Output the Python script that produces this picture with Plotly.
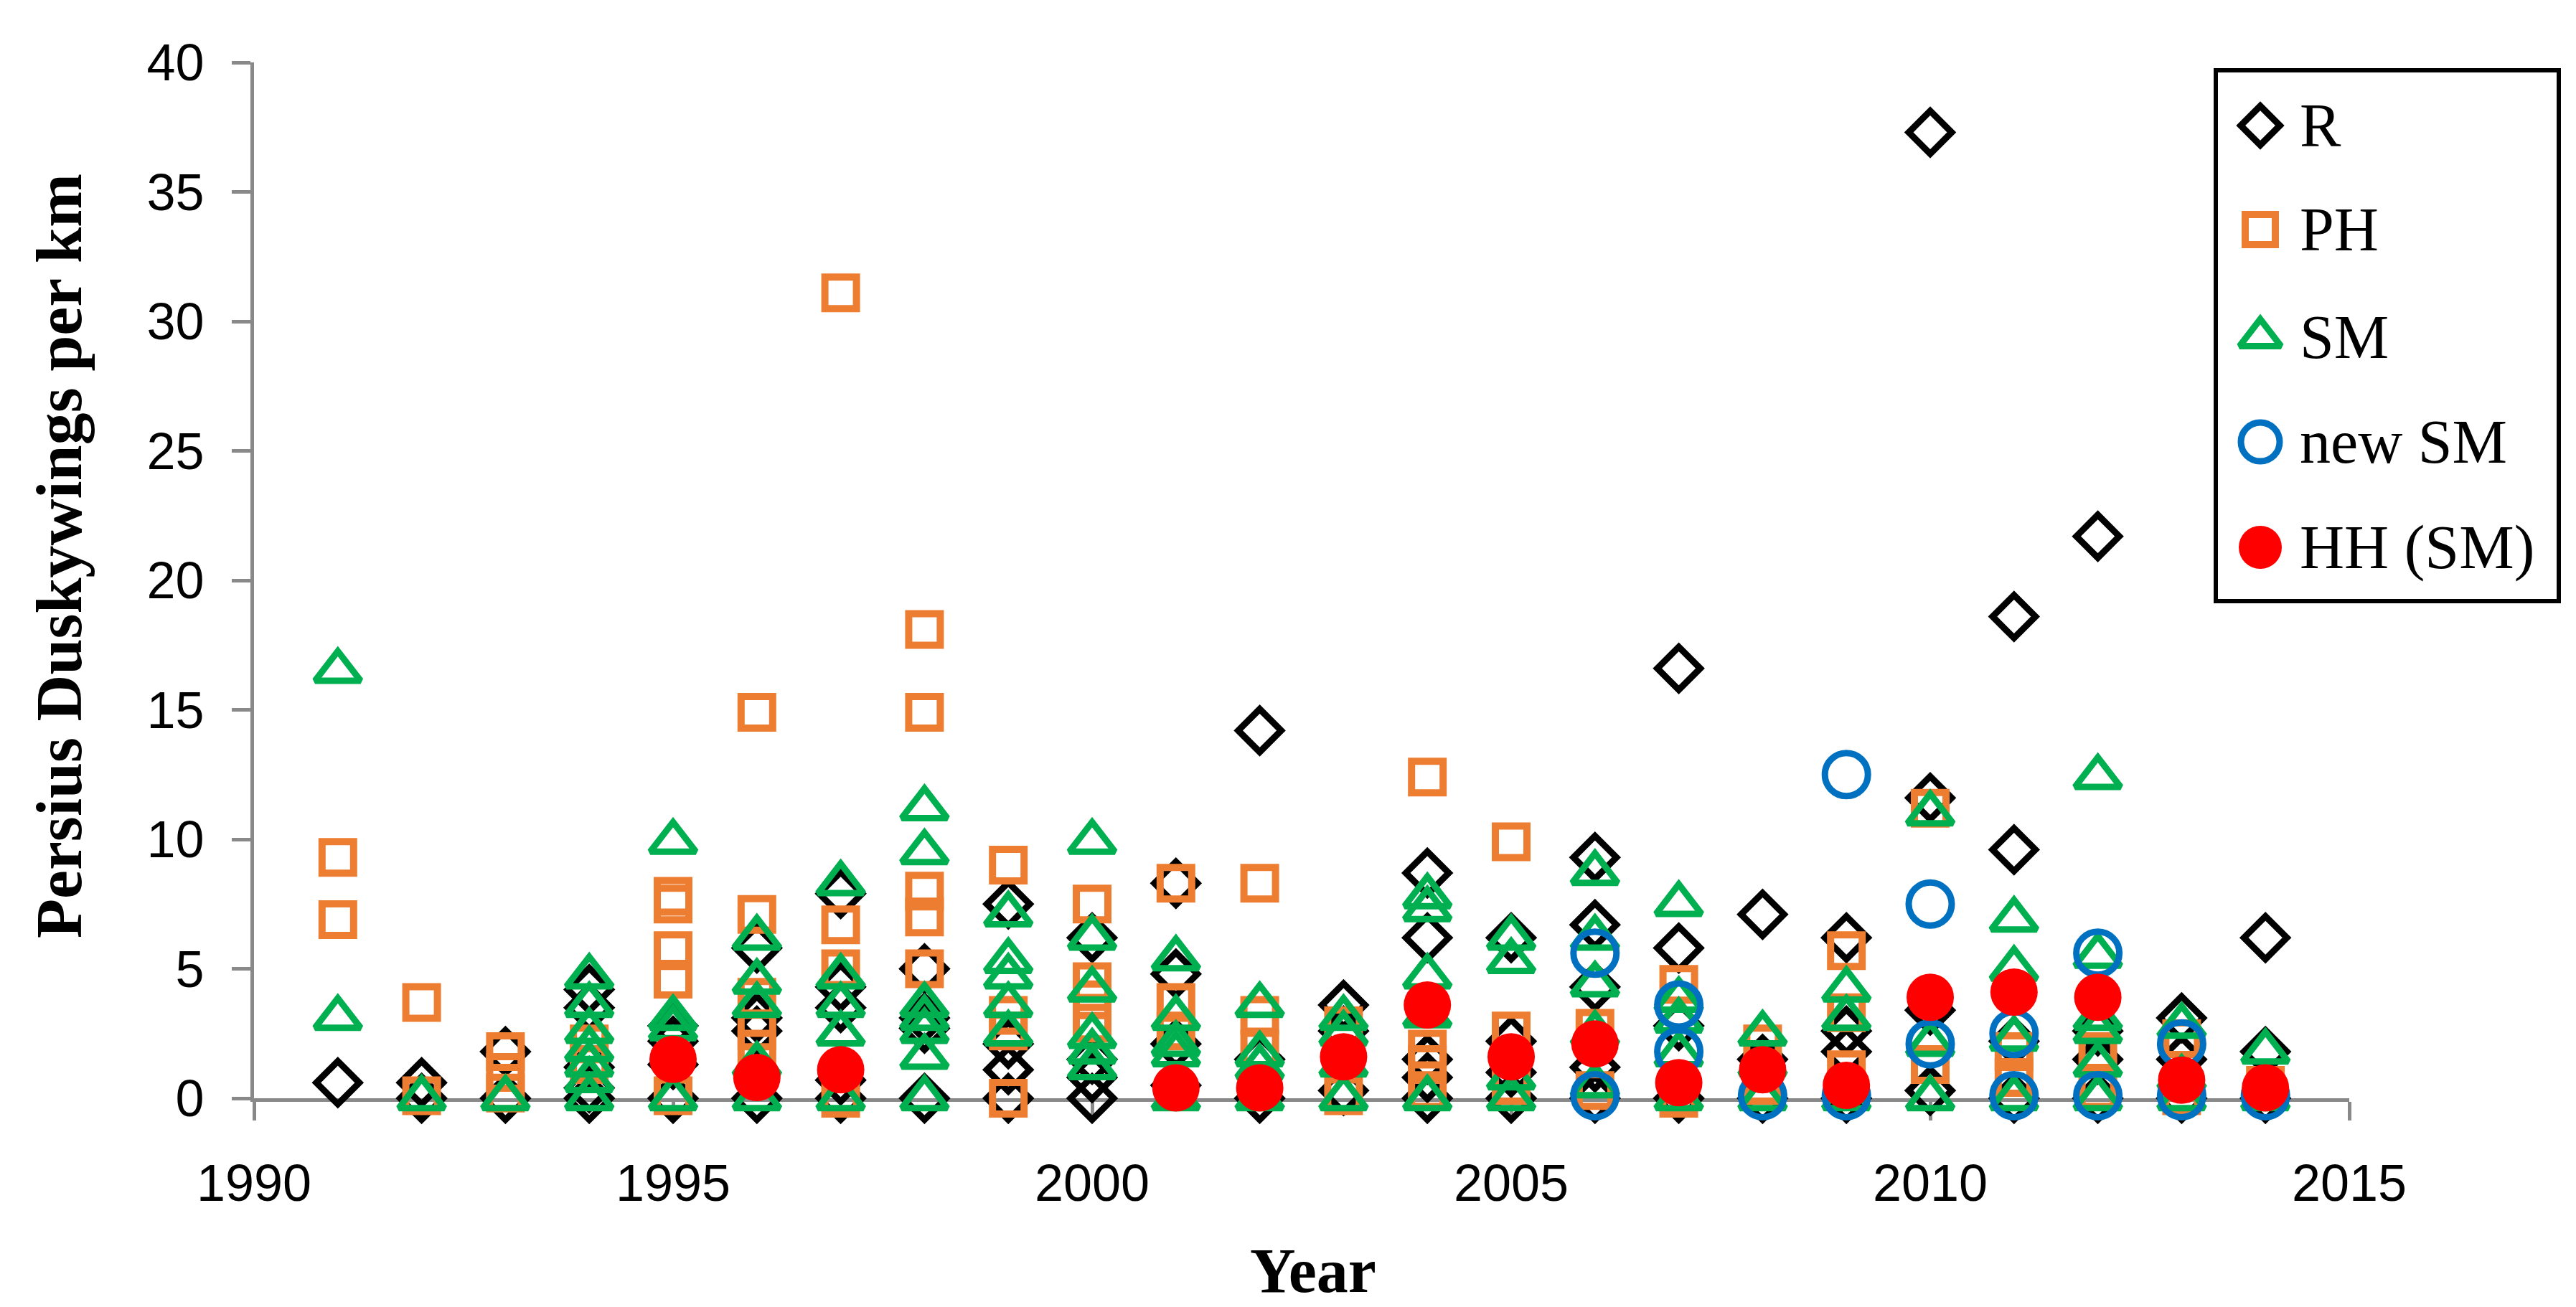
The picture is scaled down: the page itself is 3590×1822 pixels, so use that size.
import plotly.graph_objects as go

# Persius Duskywings per km, per year and per survey type
r_years = list(range(1991, 2015))
r_values = [
    [0.6], [0.6, 0], [1.8, 0], [4.2, 3.5, 1.2, 0.4, 0], [2.8, 2.2, 1.3, 0],
    [5.8, 3.1, 2.6, 0], [7.9, 4.3, 3.5, 0.7, 0], [5.0, 3.1, 2.7, 0], [7.5, 2.1, 1.1, 0],
    [6.2, 1.5, 0.8, 0], [8.3, 4.8, 2.1, 0.5], [14.2, 1.5, 0], [3.6, 2.6, 0.3],
    [8.7, 6.2, 1.5, 0.8, 0], [6.2, 2.2, 1.0, 0], [9.3, 6.7, 4.3, 1.2, 0],
    [16.6, 5.8, 2.8, 0], [7.1, 1.5, 0], [6.2, 2.6, 1.8, 0], [37.3, 11.6, 3.4, 0.3],
    [18.6, 9.6, 2.2, 0], [21.7, 2.6, 1.5, 0], [3.1, 1.5, 0], [6.2, 1.8, 0],
]

ph_years = list(range(1991, 2015))
ph_values = [
    [9.3, 6.9], [3.7, 0.1], [1.8, 1.0, 0.2], [2.1, 1.3], [7.8, 7.5, 5.7, 4.6, 0.1],
    [14.9, 7.1, 3.9, 2.6, 1.9], [31.1, 6.7, 5.0, 0], [18.1, 14.9, 8.0, 7.0, 5.0],
    [9.0, 3.2, 2.6, 0], [7.5, 4.5, 3.8, 2.9], [8.3, 3.7, 2.6], [8.3, 3.2, 1.9],
    [2.8, 0.1], [12.4, 1.9, 1.3, 0.3], [9.9, 2.6, 0.5], [2.7, 0.3], [4.4, 0],
    [2.1, 0.5], [5.7, 3.3, 1.1], [11.2, 1.3], [1.8, 0.8], [1.8, 0.3], [2.3, 0.1], [0.5],
]

sm_years = list(range(1991, 2015))
sm_values = [
    [16.5, 3.1], [0], [0], [4.7, 3.6, 2.6, 1.9, 1.3, 0.7, 0], [9.9, 3.1, 2.7, 0],
    [6.2, 4.5, 3.6, 1.3, 0], [8.3, 4.7, 3.6, 2.5, 0], [11.2, 9.5, 3.6, 3.1, 2.6, 1.6, 0],
    [7.1, 5.3, 4.7, 3.6, 2.5], [9.9, 6.2, 4.2, 2.4, 1.8, 1.2], [5.4, 3.1, 2.1, 1.7, 0],
    [3.6, 1.7, 1.2, 0], [3.1, 2.5, 1.3, 0], [7.8, 7.3, 4.7, 3.2, 0], [6.2, 5.3, 0.8, 0],
    [8.7, 6.2, 4.4, 2.5, 0.5], [7.5, 3.8, 3.0, 1.7, 0], [2.5, 1.3, 0], [4.2, 3.1, 0],
    [11.0, 2.1, 0], [6.9, 5.0, 2.3, 0], [12.4, 5.5, 3.1, 2.6, 1.3, 0], [2.8, 0.8, 0], [1.8, 0],
]

newsm_years = list(range(2006, 2015))
newsm_values = [
    [5.6, 0.1], [3.6, 1.8], [0.1], [12.5, 0.1], [7.5, 2.1], [2.5, 0.1], [5.6, 0.1], [2.1, 0.1], [0.1],
]

hh_years = [1995, 1996, 1997, 2001, 2002, 2003, 2004, 2005, 2006, 2007, 2008, 2009, 2010, 2011, 2012, 2013, 2014]
hh_values = [1.5, 0.8, 1.1, 0.4, 0.4, 1.6, 3.6, 1.6, 2.1, 0.6, 1.1, 0.5, 3.9, 4.1, 3.9, 0.7, 0.4]

x_ticks = [1990, 1995, 2000, 2005, 2010, 2015]
y_ticks = [0, 5, 10, 15, 20, 25, 30, 35, 40]


def flatten(years, values):
    xs, ys = [], []
    for yr, vals in zip(years, values):
        for v in vals:
            xs.append(yr)
            ys.append(v)
    return xs, ys


# placement of the plot area in the 3590x1822 page
W, H = 3590, 1822
L, R, T, B = 346, 3266, 79, 1523


def fx(px):
    return (px - L) / (R - L)


def fy(py):
    return (B - py) / (B - T)


series = [
    ("R", r_years, r_values, "diamond-open", "#000000", 46, 9),
    ("PH", ph_years, ph_values, "square-open", "#ED7D31", 44, 10),
    ("SM", sm_years, sm_values, "triangle-up-open", "#00B050", 55, 9),
    ("new SM", newsm_years, newsm_values, "circle-open", "#0070C0", 60, 9),
]

fig = go.Figure()

for name, yrs, vals, symbol, color, size, lw in series:
    xs, ys = flatten(yrs, vals)
    fig.add_trace(go.Scatter(
        x=xs, y=ys, mode="markers", name=name, showlegend=False, cliponaxis=False,
        marker=dict(symbol=symbol, size=size, color=color, line=dict(color=color, width=lw)),
    ))

fig.add_trace(go.Scatter(
    x=hh_years, y=hh_values, mode="markers", name="HH (SM)", showlegend=False, cliponaxis=False,
    marker=dict(symbol="circle", size=66, color="#FF0000", line=dict(width=0)),
))

# legend drawn by hand so the glyphs keep the chart's marker size
legend_rows = [167, 312, 462, 608, 755]
legend_names = ["R", "PH", "SM", "new SM", "HH (SM)"]
legend_style = [
    ("diamond-open", "#000000", 42, 9),
    ("square-open", "#ED7D31", 42, 10),
    ("triangle-up-open", "#00B050", 50, 9),
    ("circle-open", "#0070C0", 54, 9),
    ("circle", "#FF0000", 60, 0),
]
for row, name, (symbol, color, size, lw) in zip(legend_rows, legend_names, legend_style):
    fig.add_trace(go.Scatter(
        x=[fx(3142)], y=[fy(row)], mode="markers", xaxis="x2", yaxis="y2",
        showlegend=False, cliponaxis=False, hoverinfo="skip",
        marker=dict(symbol=symbol, size=size, color=color, line=dict(color=color, width=lw)),
    ))
    fig.add_annotation(
        x=fx(3195), y=fy(row), xref="paper", yref="paper", text=name, showarrow=False,
        xanchor="left", yanchor="middle",
        font=dict(family="Liberation Serif, Times New Roman, serif", size=86, color="black"),
    )

fig.add_shape(
    type="rect", xref="paper", yref="paper",
    x0=fx(3080), x1=fx(3558), y0=fy(90), y1=fy(830),
    line=dict(color="black", width=6), fillcolor="rgba(0,0,0,0)",
)

axis_gray = "#898989"
tick_font = dict(family="Liberation Sans, Arial, sans-serif", size=72, color="black")

fig.update_layout(
    width=W, height=H,
    margin=dict(l=L, r=W - R, t=T, b=H - B, pad=0),
    paper_bgcolor="white", plot_bgcolor="white",
    showlegend=False,
    xaxis=dict(
        range=[1990, 2015], tickvals=x_ticks, showgrid=False, zeroline=False,
        showline=True, linecolor=axis_gray, linewidth=5,
        ticks="outside", ticklen=26, tickwidth=5, tickcolor=axis_gray,
        tickfont=tick_font, ticklabelstandoff=26, layer="below traces",
    ),
    yaxis=dict(
        range=[0, 40], tickvals=y_ticks, showgrid=False, zeroline=False,
        showline=True, linecolor=axis_gray, linewidth=5,
        ticks="outside", ticklen=26, tickwidth=5, tickcolor=axis_gray,
        tickfont=tick_font, ticklabelstandoff=24, layer="below traces",
    ),
    xaxis2=dict(range=[0, 1], overlaying="x", anchor="y2", visible=False),
    yaxis2=dict(range=[0, 1], overlaying="y", anchor="x2", visible=False),
)

fig.add_annotation(
    x=fx(74), y=fy(767), xref="paper", yref="paper", text="<b>Persius Duskywings per km</b>",
    showarrow=False, textangle=-90, xanchor="center", yanchor="middle",
    font=dict(family="Liberation Serif, Times New Roman, serif", size=90, color="black"),
)
fig.add_annotation(
    x=fx(1822), y=fy(1763), xref="paper", yref="paper", text="<b>Year</b>",
    showarrow=False, xanchor="center", yanchor="middle",
    font=dict(family="Liberation Serif, Times New Roman, serif", size=88, color="black"),
)

fig.write_html("out.html")
